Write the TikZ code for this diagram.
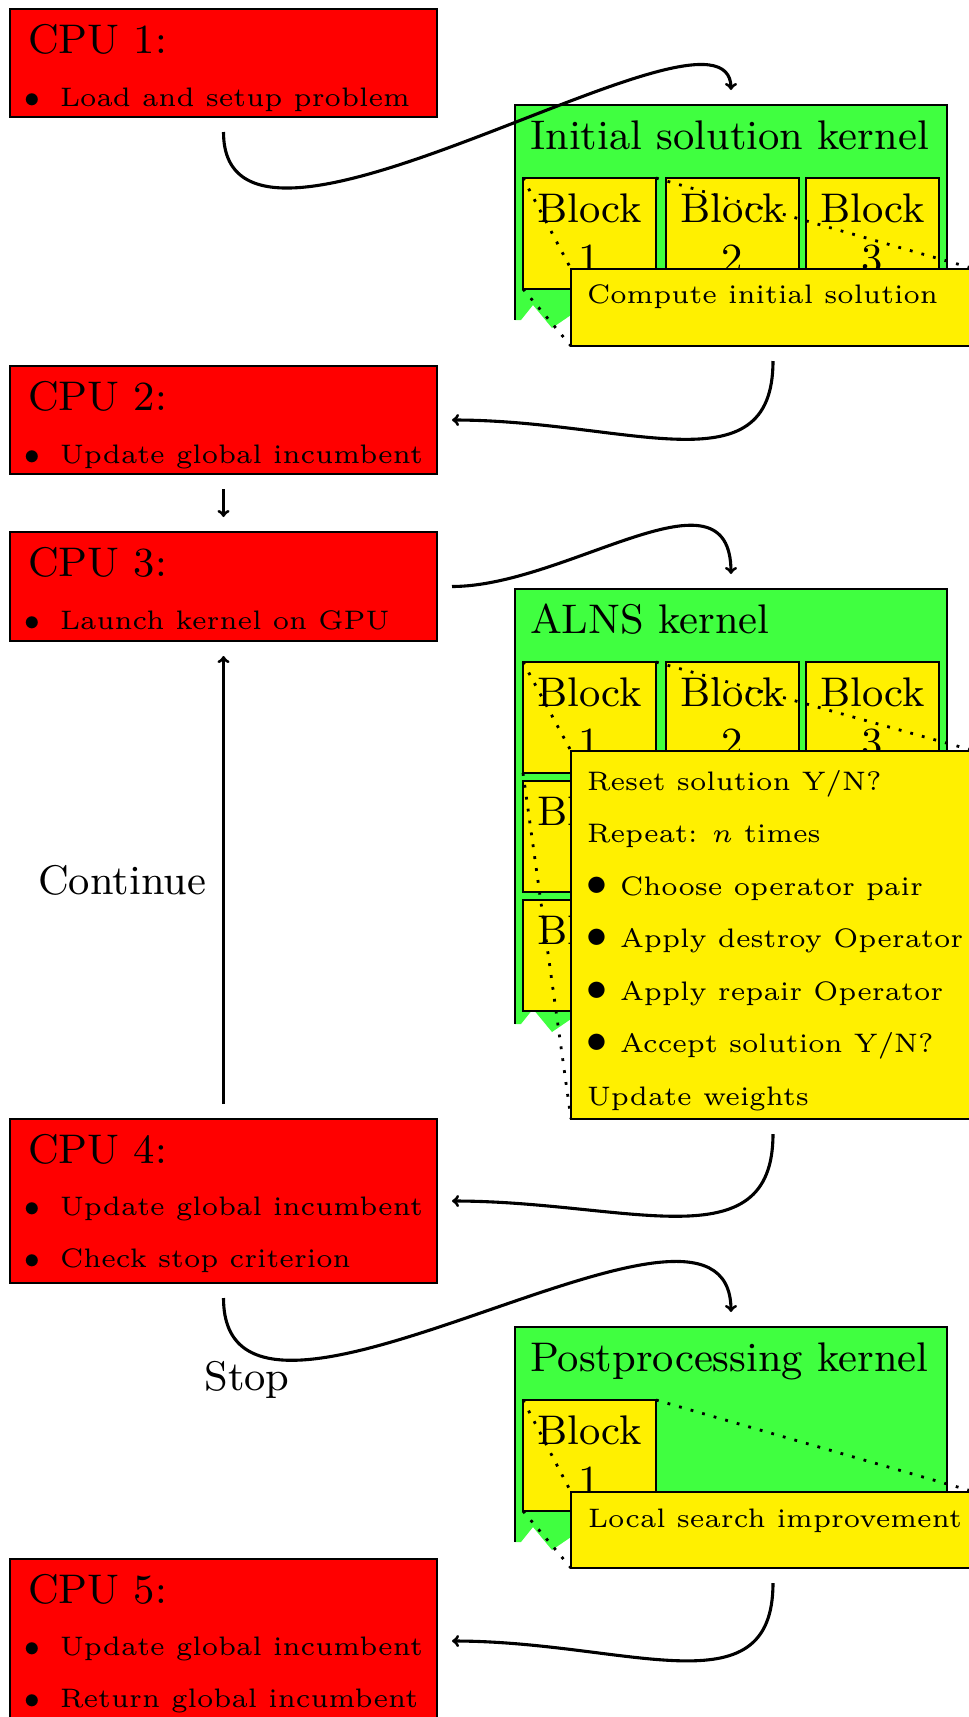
\documentclass[tikz,border=0pt]{standalone}
\definecolor{cpured}{RGB}{255,0,0}
\definecolor{kgreen}{RGB}{64,255,64}
\definecolor{kyellow}{RGB}{255,240,0}
\pgfdeclarelayer{back}
\pgfdeclarelayer{mid}
\pgfsetlayers{back,mid,main}
\begin{document}
\begin{tikzpicture}[x=1pt,y=-1pt,
  every node/.style={inner sep=0pt,outer sep=0pt},
  edgeline/.style={draw=black,line width=2pt},
  cpubox/.style={edgeline,fill=cpured,minimum width=427pt,anchor=north west},
  kframe/.style={minimum width=432pt,anchor=north west},
  blk/.style={edgeline,fill=kyellow,minimum width=133pt,minimum height=111pt,anchor=north west},
  ovl/.style={edgeline,fill=kyellow,minimum width=404pt,anchor=north west},
  big/.style={scale=4.6,font=\fontsize{9}{10.9}\selectfont},
  small/.style={scale=4.46,font=\fontsize{6}{7}\selectfont},
  bw/.style={anchor=base west},
  dotb/.style={scale=4.46,font=\fontsize{6}{7}\selectfont,anchor=base},
  bigdot/.style={scale=4.53,font=\fontsize{9}{11}\selectfont,anchor=base},
  zoomline/.style={line width=2.8pt,dash pattern=on 2.8pt off 9.2pt},
  arr/.style={->,line width=3.1pt,shorten <=15pt,shorten >=15pt},
]
\useasboundingbox (0,0) rectangle (969,1717);

% ---------------- CPU boxes ----------------
\node[cpubox,minimum height=108pt] (cpu1) at (10,9) {};
\node[big,bw] (cpu1h) at (28,53) {CPU 1:};
\node[dotb] (cpu1d1) at (32,106) {$\bullet$};
\node[small,bw] (cpu1i1) at (60,106) {Load and setup problem};

\node[cpubox,minimum height=108pt] (cpu2) at (10,366) {};
\node[big,bw] (cpu2h) at (28,410) {CPU 2:};
\node[dotb] (cpu2d1) at (32,463) {$\bullet$};
\node[small,bw] (cpu2i1) at (60,463) {Update global incumbent};

\node[cpubox,minimum height=109pt] (cpu3) at (10,532) {};
\node[big,bw] (cpu3h) at (28,576) {CPU 3:};
\node[dotb] (cpu3d1) at (32,629) {$\bullet$};
\node[small,bw] (cpu3i1) at (60,629) {Launch kernel on GPU};

\node[cpubox,minimum height=164pt] (cpu4) at (10,1119) {};
\node[big,bw] (cpu4h) at (28,1163) {CPU 4:};
\node[dotb] (cpu4d1) at (32,1215) {$\bullet$};
\node[small,bw] (cpu4i1) at (60,1215) {Update global incumbent};
\node[dotb] (cpu4d2) at (32,1267) {$\bullet$};
\node[small,bw] (cpu4i2) at (60,1267) {Check stop criterion};

\node[cpubox,minimum height=164pt] (cpu5) at (10,1559) {};
\node[big,bw] (cpu5h) at (28,1603) {CPU 5:};
\node[dotb] (cpu5d1) at (32,1655) {$\bullet$};
\node[small,bw] (cpu5i1) at (60,1655) {Update global incumbent};
\node[dotb] (cpu5d2) at (32,1707) {$\bullet$};
\node[small,bw] (cpu5i2) at (60,1707) {Return global incumbent};

% ---------------- Kernel 1: initial solution ----------------
\begin{pgfonlayer}{back}
\node[kframe,minimum height=215pt] (k1) at (515,105) {};
\fill[kgreen] (515,105) -- (947,105) -- (947,320) -- (571,315) -- (552,328) -- (533,305) -- (521,320) -- (515,320) -- cycle;
\draw[edgeline] (515,320) -- (515,105) -- (947,105) -- (947,320);
\node[big,bw] (k1h) at (530,149) {Initial solution kernel};
\node[blk] (k1b1) at (523,178) {};
\node[blk] (k1b2) at (666,178) {};
\node[blk] (k1b3) at (806,178) {};
\node[big,align=center] (k1b1t) at (k1b1) {Block\\1};
\node[big,align=center] (k1b2t) at (k1b2) {Block\\2};
\node[big,align=center] (k1b3t) at (k1b3) {Block\\3};
\end{pgfonlayer}
\node[ovl,minimum height=77pt] (k1o) at (571,269) {};
\node[small,bw] (k1ot) at (587,303) {Compute initial solution};
\begin{pgfonlayer}{mid}
\draw[zoomline] (k1b1.north west) -- (k1o.north west);
\draw[zoomline] (k1b1.north east) -- (k1o.north east);
\draw[zoomline] (k1b1.south west) -- (k1o.south west);
\draw[zoomline] (k1b1.south east) -- (k1o.south east);
\end{pgfonlayer}

% ---------------- Kernel 2: ALNS ----------------
\begin{pgfonlayer}{back}
\node[kframe,minimum height=435pt] (k2) at (515,589) {};
\fill[kgreen] (515,589) -- (947,589) -- (947,1024) -- (571,1019) -- (552,1032) -- (533,1009) -- (521,1024) -- (515,1024) -- cycle;
\draw[edgeline] (515,1024) -- (515,589) -- (947,589) -- (947,1024);
\node[big,bw] (k2h) at (530,633) {ALNS kernel};
\node[blk] (k2b1) at (523,662) {};
\node[blk] (k2b2) at (666,662) {};
\node[blk] (k2b3) at (806,662) {};
\node[blk] (k2b4) at (523,781) {};
\node[blk] (k2b7) at (523,900) {};
\node[big,align=center] (k2b1t) at (k2b1) {Block\\1};
\node[big,align=center] (k2b2t) at (k2b2) {Block\\2};
\node[big,align=center] (k2b3t) at (k2b3) {Block\\3};
\node[big,align=center] (k2b4t) at (k2b4) {Block\\4};
\node[big,align=center] (k2b7t) at (k2b7) {Block\\7};
\end{pgfonlayer}
\node[ovl,minimum height=368pt] (k2o) at (571,751) {};
\node[small,bw] (k2l1) at (587,790) {Reset solution Y/N?};
\node[small,bw] (k2l2) at (587,842.5) {Repeat: $n$ times};
\node[bigdot] (k2d3) at (597,895) {$\bullet$};
\node[small,bw] (k2l3) at (620,895) {Choose operator pair};
\node[bigdot] (k2d4) at (597,947.5) {$\bullet$};
\node[small,bw] (k2l4) at (620,947.5) {Apply destroy Operator};
\node[bigdot] (k2d5) at (597,1000) {$\bullet$};
\node[small,bw] (k2l5) at (620,1000) {Apply repair Operator};
\node[bigdot] (k2d6) at (597,1052.5) {$\bullet$};
\node[small,bw] (k2l6) at (620,1052.5) {Accept solution Y/N?};
\node[small,bw] (k2l7) at (587,1105) {Update weights};
\begin{pgfonlayer}{mid}
\draw[zoomline] (k2b1.north west) -- (k2o.north west);
\draw[zoomline] (k2b1.north east) -- (k2o.north east);
\draw[zoomline] (k2b1.south west) -- (k2o.south west);
\draw[zoomline] (k2b1.south east) -- (k2o.south east);
\end{pgfonlayer}

% ---------------- Kernel 3: postprocessing ----------------
\begin{pgfonlayer}{back}
\node[kframe,minimum height=215pt] (k3) at (515,1327) {};
\fill[kgreen] (515,1327) -- (947,1327) -- (947,1542) -- (571,1537) -- (552,1550) -- (533,1527) -- (521,1542) -- (515,1542) -- cycle;
\draw[edgeline] (515,1542) -- (515,1327) -- (947,1327) -- (947,1542);
\node[big,bw] (k3h) at (530,1371) {Postprocessing kernel};
\node[blk] (k3b1) at (523,1400) {};
\node[big,align=center] (k3b1t) at (k3b1) {Block\\1};
\end{pgfonlayer}
\node[ovl,minimum height=76pt] (k3o) at (571,1492) {};
\node[small,bw] (k3ot) at (588,1527) {Local search improvement};
\begin{pgfonlayer}{mid}
\draw[zoomline] (k3b1.north west) -- (k3o.north west);
\draw[zoomline] (k3b1.north east) -- (k3o.north east);
\draw[zoomline] (k3b1.south west) -- (k3o.south west);
\draw[zoomline] (k3b1.south east) -- (k3o.south east);
\end{pgfonlayer}

% ---------------- connectors ----------------
\draw[arr] (cpu1.south) .. controls +(0,200) and +(0,-130) .. (k1.north);
\draw[arr] (k1o.south) .. controls +(0,145) and +(190,0) .. (cpu2.east);
\draw[arr] (cpu2.south) -- (cpu3.north);
\draw[arr] (cpu3.east) .. controls +(130,0) and +(0,-130) .. (k2.north);
\draw[arr] (k2o.south) .. controls +(0,145) and +(190,0) .. (cpu4.east);
\draw[arr] (cpu4.north) -- (cpu3.south);
\node[big,anchor=east] (cont) at (206,880) {Continue};
\draw[arr] (cpu4.south) .. controls +(0,215) and +(0,-190) .. (k3.north);
\node[big,anchor=base] (stop) at (247,1390) {Stop};
\draw[arr] (k3o.south) .. controls +(0,145) and +(190,0) .. (cpu5.east);
\end{tikzpicture}
\end{document}
